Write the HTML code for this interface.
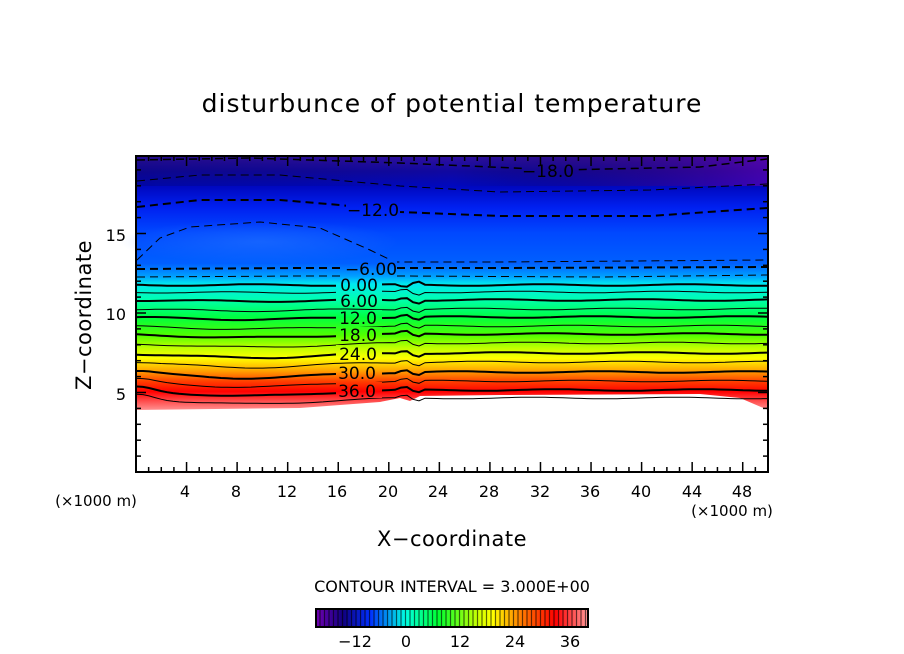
<!DOCTYPE html>
<html><head><meta charset="utf-8"><style>
html,body{margin:0;padding:0;background:#fff}
svg{display:block;font-family:"DejaVu Sans","Liberation Sans",sans-serif}
</style></head><body>
<svg id="s" width="904" height="654" viewBox="0 0 904 654" xmlns="http://www.w3.org/2000/svg">
<defs>
<linearGradient id="g" x1="0" y1="156" x2="0" y2="412" gradientUnits="userSpaceOnUse">
<stop offset="0" stop-color="#3010a0"/>
<stop offset="0.06" stop-color="#1008a0"/>
<stop offset="0.12" stop-color="#0008c0"/>
<stop offset="0.2" stop-color="#0020f0"/>
<stop offset="0.3" stop-color="#0048ff"/>
<stop offset="0.42" stop-color="#0060ff"/>
<stop offset="0.47" stop-color="#00a0ff"/>
<stop offset="0.5" stop-color="#00e8f0"/>
<stop offset="0.56" stop-color="#00ffb0"/>
<stop offset="0.63" stop-color="#00ff40"/>
<stop offset="0.7" stop-color="#50ff00"/>
<stop offset="0.75" stop-color="#c0ff00"/>
<stop offset="0.79" stop-color="#ffff00"/>
<stop offset="0.84" stop-color="#ffa000"/>
<stop offset="0.88" stop-color="#ff4000"/>
<stop offset="0.92" stop-color="#ff0000"/>
<stop offset="0.955" stop-color="#ff4848"/>
<stop offset="1" stop-color="#ffa0a0"/>
</linearGradient>
<linearGradient id="tp" x1="0" y1="0" x2="1" y2="0">
<stop offset="0" stop-color="#000040" stop-opacity="0.2"/>
<stop offset="0.5" stop-color="#000" stop-opacity="0"/>
<stop offset="1" stop-color="#7000b0" stop-opacity="0.55"/>
</linearGradient>
<linearGradient id="cb" x1="0" y1="0" x2="1" y2="0">
<stop offset="0" stop-color="#7000b0"/>
<stop offset="0.1" stop-color="#100080"/>
<stop offset="0.2" stop-color="#0030ff"/>
<stop offset="0.33" stop-color="#00ffe0"/>
<stop offset="0.45" stop-color="#00ff30"/>
<stop offset="0.6" stop-color="#d0ff00"/>
<stop offset="0.65" stop-color="#ffff00"/>
<stop offset="0.75" stop-color="#ff8000"/>
<stop offset="0.88" stop-color="#ff0000"/>
<stop offset="1" stop-color="#ff9898"/>
</linearGradient>
<radialGradient id="dome" cx="0.5" cy="0.5" r="0.5">
<stop offset="0" stop-color="#2a78ff" stop-opacity="0.5"/>
<stop offset="1" stop-color="#2a78ff" stop-opacity="0"/>
</radialGradient>
<mask id="m">
<rect x="0" y="0" width="904" height="654" fill="#fff"/>
<g fill="#000">
<rect x="522" y="160" width="52" height="20"/>
<rect x="346" y="200" width="54" height="20"/>
<rect x="345" y="259" width="52" height="18"/>
<rect x="336" y="279" width="46" height="14"/>
<rect x="336" y="294" width="46" height="14"/>
<rect x="336" y="310" width="46" height="15"/>
<rect x="336" y="327" width="46" height="15"/>
<rect x="336" y="345" width="46" height="16"/>
<rect x="336" y="364" width="46" height="16"/>
<rect x="336" y="382" width="46" height="16"/>
</g>
</mask>
</defs>
<text x="452" y="112" font-size="25" text-anchor="middle" letter-spacing="1">disturbunce of potential temperature</text>
<rect x="136" y="156" width="632" height="316" fill="#fff"/>
<rect x="136" y="156" width="632" height="256" fill="url(#g)"/>
<rect x="136" y="156" width="632" height="30" fill="url(#tp)"/>
<ellipse cx="260" cy="242" rx="140" ry="22" fill="url(#dome)"/>
<path d="M136 410 L300 408 L380 402 L400 398 L410 401 L420 396 L500 395 L700 394 L740 398 L768 410 L768 473 L136 473Z" fill="#fff"/>
<g id="lines" fill="none" stroke="#000" mask="url(#m)"></g>
<g font-size="17" fill="#000" text-anchor="middle">
<text x="548" y="177">−18.0</text>
<text x="373" y="216">−12.0</text>
<text x="371" y="275">−6.00</text>
<text x="359" y="291">0.00</text>
<text x="359" y="307">6.00</text>
<text x="358" y="324">12.0</text>
<text x="358" y="341">18.0</text>
<text x="358" y="360">24.0</text>
<text x="357" y="379">30.0</text>
<text x="357" y="397">36.0</text>
</g>
<rect x="136" y="156" width="632" height="316" fill="none" stroke="#000" stroke-width="2"/>
<g id="ticks" stroke="#000" stroke-width="1.5"></g>
<g font-size="16" text-anchor="middle">
<text x="185" y="497">4</text><text x="236" y="497">8</text><text x="287" y="497">12</text><text x="337" y="497">16</text><text x="388" y="497">20</text><text x="438" y="497">24</text><text x="489" y="497">28</text><text x="540" y="497">32</text><text x="590" y="497">36</text><text x="641" y="497">40</text><text x="692" y="497">44</text><text x="742" y="497">48</text>
<text x="96" y="506" font-size="15">(×1000 m)</text>
<text x="732" y="516" font-size="15">(×1000 m)</text>
<text x="452" y="546" font-size="21" letter-spacing="0.5">X−coordinate</text>
</g>
<g font-size="16" text-anchor="end">
<text x="126" y="400">5</text><text x="126" y="320">10</text><text x="126" y="241">15</text>
</g>
<text transform="translate(91,315) rotate(-90)" font-size="21" text-anchor="middle" letter-spacing="0.5">Z−coordinate</text>
<text x="452" y="592" font-size="16" text-anchor="middle">CONTOUR INTERVAL = 3.000E+00</text>
<rect x="316" y="609" width="272" height="18" fill="url(#cb)" stroke="#000" stroke-width="2"/>
<g id="cbl" stroke="#000" stroke-width="1.2" opacity="0.6"></g>
<g font-size="16" text-anchor="middle">
<text x="355" y="647">−12</text><text x="406" y="647">0</text><text x="460" y="647">12</text><text x="515" y="647">24</text><text x="570" y="647">36</text>
</g>
</svg>
<script>
var NS="http://www.w3.org/2000/svg";
function el(p,t,a){var e=document.createElementNS(NS,t);for(var k in a)e.setAttribute(k,a[k]);p.appendChild(e);return e;}
var L=document.getElementById("lines");
function bell(x,c,w){var d=(x-c)/w;return Math.exp(-d*d);}
var base=[285,292,300,309,317,326,334,343,353,362,372,381,390,398];
for(var i=0;i<base.length;i++){
  var v=i*3, amp=Math.min(6,v/5), pts=[];
  for(var x=137;x<=767;x+=6){
    var y=base[i]+amp*bell(x,250,90)-(v>24?(v-24)*0.35*bell(x,140,20):0);
    y+=(x>398&&x<424)?((v>0?-1:1)*3*Math.sin((x-398)/26*Math.PI*2)):0;
    y+=0.8*Math.sin(x/23+i);
    pts.push(x+","+y.toFixed(1));
  }
  el(L,"polyline",{points:pts.join(" "),"stroke-width":(v%6==0)?2:1});
}
function dash(pts,w){el(L,"polyline",{points:pts,"stroke-width":w,"stroke-dasharray":"8,5"});}
dash("137,277 300,276 400,276 600,277 767,275",1);
dash("137,269 300,268 400,268 500,268 767,267",2);
dash("137,260 160,238 190,227 260,222 320,228 370,250 395,262 500,262 767,260",1);
dash("137,207 200,200 280,200 340,205 400,212 500,216 650,216 767,208",2);
dash("137,181 200,175 280,175 400,186 500,192 650,190 767,184",1);
dash("137,160 250,158 400,163 560,170 700,167 767,159",1.5);
var T=document.getElementById("ticks");
for(var k=1;k<50;k++){var x=136+k*12.64,len=(k%4==0)?10:5;
 el(T,"line",{x1:x,y1:472,x2:x,y2:472-len});el(T,"line",{x1:x,y1:156,x2:x,y2:156+len});}
for(var k=1;k<20;k++){var y=472-k*15.9,len=(k%5==0)?10:5;
 el(T,"line",{x1:136,y1:y,x2:136+len,y2:y});el(T,"line",{x1:768,y1:y,x2:768-len,y2:y});}
var C=document.getElementById("cbl");
for(var x=320;x<588;x+=4.5)el(C,"line",{x1:x,y1:610,x2:x,y2:626});
</script>
</body></html>
